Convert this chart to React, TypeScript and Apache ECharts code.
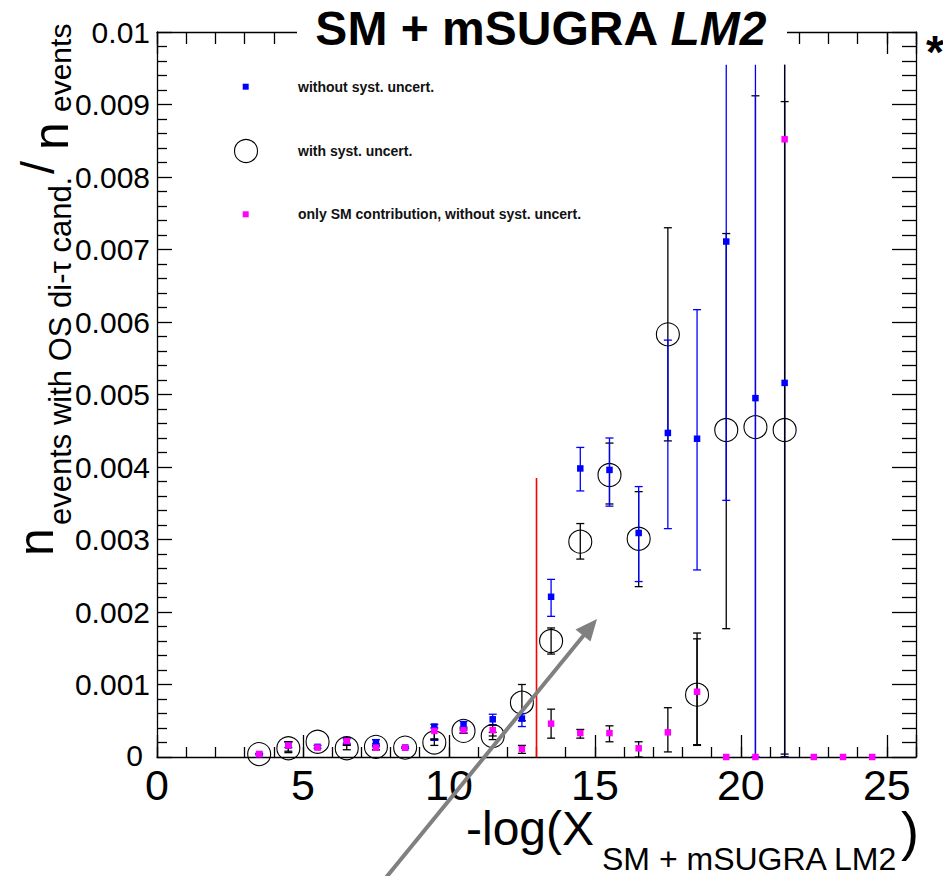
import React, { useEffect, useRef } from "react";
import * as echarts from "echarts";

const FONT = "'Liberation Sans', Arial, Helvetica, sans-serif";

// bin centres of the signal+background histograms
const binCenters = [3.5, 4.5, 5.5, 6.5, 7.5, 8.5, 9.5, 10.5, 11.5, 12.5, 13.5, 14.5, 15.5, 16.5, 17.5, 18.5, 19.5, 20.5, 21.5];

// without systematic uncertainties (blue)
const noSystVals = [0.00004, 0.00016, 0.00014, 0.00022, 0.00019, 0.00013, 0.00042, 0.00045, 0.00052, 0.00053, 0.00221, 0.00398, 0.00396, 0.00309, 0.00447, 0.00439, 0.00711, 0.00495, 0.00516];
const noSystLow = [0.00003, 0.00013, 0.00012, 0.00019, 0.00014, 0.00012, 0.00023, 0.00037, 0.00044, 0.00042, 0.00194, 0.00367, 0.00346, 0.00242, 0.00315, 0.00258, 0.00354, 0, 0];
const noSystHigh = [0.00005, 0.00021, 0.00016, 0.00025, 0.00024, 0.00014, 0.00045, 0.00049, 0.00059, 0.0006, 0.00245, 0.00427, 0.0044, 0.00373, 0.00575, 0.00617, 0.00955, 0.00955, 0.00955];

// with systematic uncertainties (open circles)
const withSystVals = [0.00004, 0.00012, 0.00021, 0.00012, 0.00014, 0.00013, 0.0002, 0.00036, 0.00029, 0.00075, 0.0016, 0.00297, 0.00389, 0.00301, 0.00583, 0.00086, 0.00451, 0.00455, 0.00451];
const withSystLow = [0.00004, 0.00006, 0.00021, 0.0001, 0.0001, 0.00013, 0.00016, 0.00033, 0.00024, 0.0005, 0.00142, 0.00273, 0.00349, 0.00235, 0.00436, 0.00016, 0.00177, 0, 0.00004];
const withSystHigh = [0.00004, 0.00021, 0.00021, 0.00016, 0.00018, 0.00013, 0.00024, 0.00039, 0.00034, 0.001, 0.00178, 0.00322, 0.00433, 0.00366, 0.0073, 0.00171, 0.00722, 0.00912, 0.00904];

// only SM contribution (magenta)
const smCenters = [3.5, 4.5, 5.5, 6.5, 7.5, 8.5, 9.5, 10.5, 11.5, 12.5, 13.5, 14.5, 15.5, 16.5, 17.5, 18.5, 19.5, 20.5, 21.5, 22.5, 23.5, 24.5];
const smVals = [0.00004, 0.00016, 0.00013, 0.00022, 0.00013, 0.00013, 0.00036, 0.00037, 0.00037, 0.00011, 0.00046, 0.00033, 0.00033, 0.00012, 0.00034, 0.0009, 0, 0, 0.00852, 0, 0, 0];
const smLow = [0.00004, 0.00008, 0.00013, 0.00017, 0.0001, 0.00013, 0.00025, 0.00033, 0.00029, 0.00005, 0.00026, 0.00026, 0.00021, 0, 0.00007, 0.00017, 0, 0, 0, 0, 0, 0];
const smHigh = [0.00004, 0.00021, 0.00013, 0.00027, 0.00016, 0.00013, 0.0004, 0.00041, 0.00044, 0.00016, 0.00066, 0.00038, 0.00043, 0.00021, 0.00068, 0.00163, 0, 0, 0.00955, 0, 0, 0];

// cut line
const cutX = 13;
const cutTop = 0.00385;

// axes
const xMin = 0;
const xMax = 26;
const yMin = 0;
const yMax = 0.01;
const clipTop = 0.0095;

const legendLabels = [
  "without syst. uncert.",
  "with syst. uncert.",
  "only SM contribution, without syst. uncert.",
];

function errData(xs: number[], lo: number[], hi: number[]) {
  return xs.map((x, i) => [x, lo[i], hi[i]]).filter((d) => d[2] > d[1]);
}

function errRender(color: string) {
  return (params: any, api: any) => {
    const x = api.value(0);
    const lo = api.value(1);
    const hi = api.value(2);
    const a = api.coord([x, lo]);
    const b = api.coord([x, hi]);
    const cap = 4;
    const style = { stroke: color, lineWidth: 1.3 };
    const children: any[] = [
      { type: "line", shape: { x1: a[0], y1: a[1], x2: b[0], y2: b[1] }, style },
      { type: "line", shape: { x1: a[0] - cap, y1: a[1], x2: a[0] + cap, y2: a[1] }, style },
    ];
    if (hi < clipTop) {
      children.push({ type: "line", shape: { x1: b[0] - cap, y1: b[1], x2: b[0] + cap, y2: b[1] }, style });
    }
    return { type: "group", children };
  };
}

export default function App() {
  const ref = useRef<HTMLDivElement>(null);

  useEffect(() => {
    document.body.style.margin = "0";
    if (!ref.current) return;
    const chart = echarts.init(ref.current, undefined, { renderer: "svg" });

    const axisLine = { show: true, onZero: false, lineStyle: { color: "#000", width: 1.3 } };
    const tickStyle = { color: "#000", width: 1.3 };

    const baseX = { type: "value", min: xMin, max: xMax, gridIndex: 0, splitLine: { show: false } };

    const option: any = {
      animation: false,
      backgroundColor: "#fff",
      grid: { left: 157, right: 27, top: 32, bottom: 119, containLabel: false },
      xAxis: [
        {
          ...baseX,
          position: "bottom",
          interval: 1,
          axisLine,
          axisTick: { show: true, inside: true, length: 10, lineStyle: tickStyle },
          axisLabel: {
            show: true,
            margin: 10,
            fontFamily: FONT,
            fontSize: 43,
            lineHeight: 36,
            color: "#000",
            formatter: (v: number) => (v % 5 === 0 ? String(v) : ""),
          },
        },
        {
          ...baseX,
          position: "bottom",
          interval: 5,
          axisLine: { show: false, onZero: false },
          axisTick: { show: true, inside: true, length: 22, lineStyle: tickStyle },
          axisLabel: { show: false },
        },
        {
          ...baseX,
          position: "top",
          interval: 1,
          axisLine,
          axisTick: { show: true, inside: true, length: 12, lineStyle: tickStyle },
          axisLabel: { show: false },
        },
        {
          ...baseX,
          position: "top",
          interval: 5,
          axisLine: { show: false, onZero: false },
          axisTick: { show: true, inside: true, length: 22, lineStyle: tickStyle },
          axisLabel: { show: false },
        },
      ],
      yAxis: [
        {
          type: "value",
          position: "left",
          min: yMin,
          max: yMax,
          interval: 0.001,
          splitLine: { show: false },
          axisLine,
          axisTick: { show: true, inside: true, length: 15, lineStyle: tickStyle },
          minorTick: { show: true, splitNumber: 5, length: 10, lineStyle: tickStyle },
          minorSplitLine: { show: false },
          axisLabel: {
            show: true,
            margin: 7,
            fontFamily: FONT,
            fontSize: 30,
            lineHeight: 20,
            color: "#000",
            formatter: (v: number) => (v === 0 ? "{z|0}" : String(+v.toFixed(4))),
            rich: {
              z: { fontFamily: FONT, fontSize: 30, lineHeight: 20, color: "#000", padding: [0, 7, 4, 0] },
            },
          },
        },
        {
          type: "value",
          position: "right",
          min: yMin,
          max: yMax,
          interval: 0.001,
          splitLine: { show: false },
          axisLine,
          axisTick: { show: true, inside: true, length: 24, lineStyle: tickStyle },
          minorTick: { show: true, splitNumber: 5, length: 14, lineStyle: tickStyle },
          axisLabel: { show: false },
        },
      ],
      series: [
        {
          name: "cut",
          type: "line",
          data: [[cutX, 0], [cutX, cutTop]],
          symbol: "none",
          lineStyle: { color: "#ff0000", width: 1.6 },
          z: 1,
        },
        {
          name: "withErr",
          type: "custom",
          data: errData(binCenters, withSystLow, withSystHigh),
          encode: { x: 0, y: [1, 2] },
          renderItem: errRender("#000"),
          z: 2,
        },
        {
          name: legendLabels[1],
          type: "scatter",
          data: binCenters.map((x, i) => [x, withSystVals[i]]),
          symbol: "circle",
          symbolSize: 23,
          itemStyle: { color: "rgba(0,0,0,0)", borderColor: "#000", borderWidth: 1.1, opacity: 1 },
          z: 3,
        },
        {
          name: "noErr",
          type: "custom",
          data: errData(binCenters, noSystLow, noSystHigh),
          encode: { x: 0, y: [1, 2] },
          renderItem: errRender("#0000ff"),
          z: 4,
        },
        {
          name: "smErr",
          type: "custom",
          data: errData(smCenters, smLow, smHigh),
          encode: { x: 0, y: [1, 2] },
          renderItem: errRender("#000"),
          z: 5,
        },
        {
          name: legendLabels[0],
          type: "scatter",
          data: binCenters.map((x, i) => [x, noSystVals[i]]),
          symbol: "rect",
          symbolSize: 6.5,
          itemStyle: { color: "#0000ff", opacity: 1 },
          z: 8,
        },
        {
          name: legendLabels[2],
          type: "scatter",
          data: smCenters.map((x, i) => [x, smVals[i]]),
          symbol: "rect",
          symbolSize: 6.5,
          itemStyle: { color: "#ff00ff", opacity: 1 },
          z: 9,
        },
      ],
      graphic: [
        // title box
        { type: "rect", shape: { x: 297, y: 10, width: 490, height: 46 }, style: { fill: "#fff" }, z: 100 },
        {
          type: "text",
          x: 540.5,
          y: 28.5,
          z: 101,
          style: {
            text: "{b|SM + mSUGRA }{i|LM2}",
            textAlign: "center",
            textVerticalAlign: "middle",
            fill: "#000",
            rich: {
              b: { fontFamily: FONT, fontSize: 48, fontWeight: "bold", fill: "#000" },
              i: { fontFamily: FONT, fontSize: 48, fontWeight: "bold", fontStyle: "italic", fill: "#000" },
            },
          },
        },
        {
          type: "text",
          x: 926,
          y: 52,
          z: 101,
          style: { text: "*", font: `bold 46px ${FONT}`, textAlign: "left", textVerticalAlign: "middle", fill: "#000" },
        },
        // legend
        { type: "rect", shape: { x: 242.7, y: 83.7, width: 6, height: 6 }, style: { fill: "#0000ff" }, z: 100 },
        { type: "circle", shape: { cx: 246, cy: 151, r: 11.5 }, style: { fill: "none", stroke: "#000", lineWidth: 1.1 }, z: 100 },
        { type: "rect", shape: { x: 242.7, y: 211.3, width: 6, height: 6 }, style: { fill: "#ff00ff" }, z: 100 },
        { type: "text", x: 298, y: 87, z: 100, style: { text: legendLabels[0], font: `bold 14px ${FONT}`, textAlign: "left", textVerticalAlign: "middle", fill: "#111" } },
        { type: "text", x: 298, y: 151, z: 100, style: { text: legendLabels[1], font: `bold 14px ${FONT}`, textAlign: "left", textVerticalAlign: "middle", fill: "#111" } },
        { type: "text", x: 298, y: 214, z: 100, style: { text: legendLabels[2], font: `bold 14px ${FONT}`, textAlign: "left", textVerticalAlign: "middle", fill: "#111" } },
        // x axis title
        { type: "text", x: 466, y: 828, z: 100, style: { text: "-log(X", font: `48px ${FONT}`, lineHeight: 44, textAlign: "left", textVerticalAlign: "middle", fill: "#000" } },
        { type: "text", x: 602, y: 859, z: 100, style: { text: "SM + mSUGRA LM2", font: `32px ${FONT}`, lineHeight: 26, textAlign: "left", textVerticalAlign: "middle", fill: "#000" } },
        { type: "text", x: 901, y: 831, z: 100, style: { text: ")", font: `54px ${FONT}`, lineHeight: 50, textAlign: "left", textVerticalAlign: "middle", fill: "#000" } },
        // y axis title (rotated)
        { type: "text", x: 35.7, y: 556, rotation: Math.PI / 2, z: 100, style: { text: "n", font: `50px ${FONT}`, textAlign: "left", textVerticalAlign: "middle", fill: "#000" } },
        { type: "text", x: 60, y: 525, rotation: Math.PI / 2, z: 100, style: { text: "events with OS di-τ cand.", font: `31px ${FONT}`, textAlign: "left", textVerticalAlign: "middle", fill: "#000" } },
        { type: "text", x: 37, y: 174, rotation: Math.PI / 2, z: 100, style: { text: "/", font: `47px ${FONT}`, textAlign: "left", textVerticalAlign: "middle", fill: "#000" } },
        { type: "text", x: 51, y: 150, rotation: Math.PI / 2, z: 100, style: { text: "n", font: `50px ${FONT}`, textAlign: "left", textVerticalAlign: "middle", fill: "#000" } },
        { type: "text", x: 60, y: 112, rotation: Math.PI / 2, z: 100, style: { text: "events", font: `30px ${FONT}`, textAlign: "left", textVerticalAlign: "middle", fill: "#000" } },
        // arrow annotation
        { type: "line", shape: { x1: 384, y1: 880, x2: 584, y2: 635 }, style: { stroke: "#808080", lineWidth: 4 }, z: 50 },
        { type: "polygon", shape: { points: [[597, 619], [590.5, 641.5], [575.5, 629.5]] }, style: { fill: "#808080" }, z: 50 },
      ],
    };

    chart.setOption(option);
    return () => chart.dispose();
  }, []);

  return <div ref={ref} style={{ position: "absolute", left: 0, top: 0, width: 943, height: 876 }} />;
}
